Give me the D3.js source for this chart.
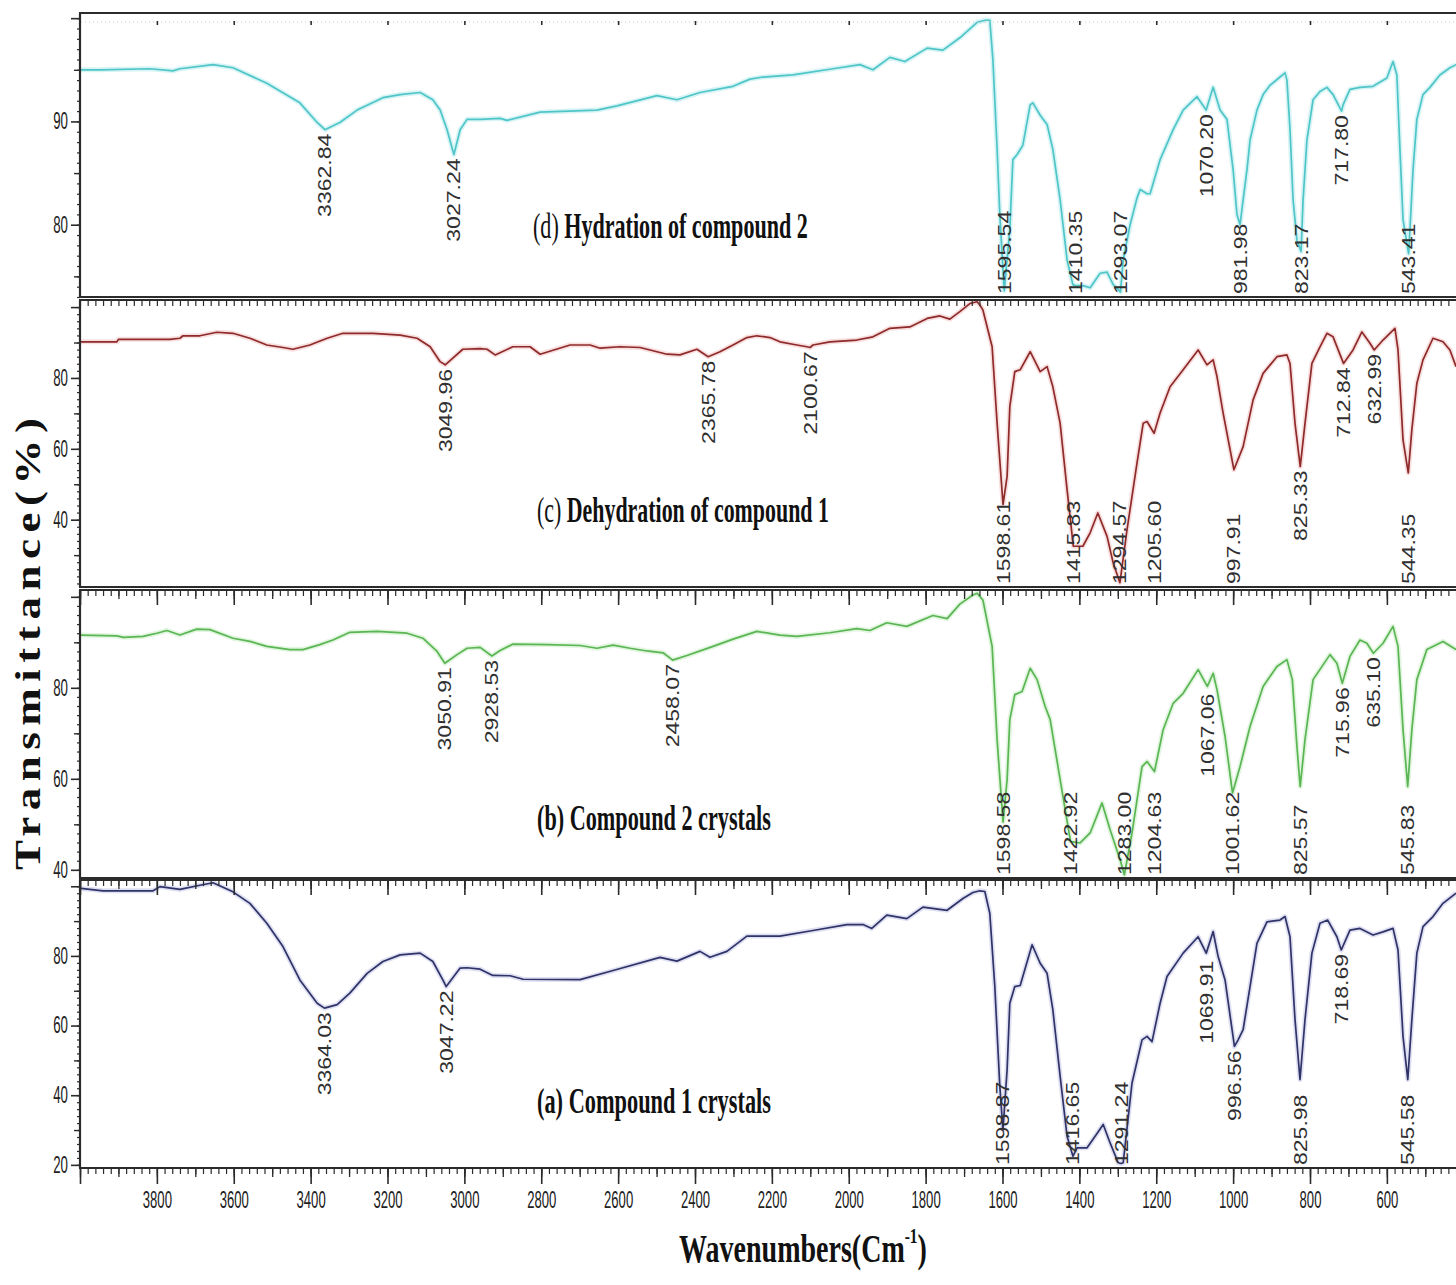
<!DOCTYPE html>
<html>
<head>
<meta charset="utf-8">
<script src="https://cdn.jsdelivr.net/npm/d3@7"></script>
<style>
  body { margin: 0; background: #fff; }
  svg { display: block; }
</style>
</head>
<body>
<svg id="chart" width="1456" height="1285"></svg>
<script>
// ---------------- data: FT-IR spectra, [wavenumber (cm-1), transmittance (%)] ----------------
const hydration2 = [
  [4000,95.0],[3948,95.0],[3818,95.1],[3758,94.9],[3740,95.1],[3654,95.5],[3602,95.2],[3514,93.7],
  [3428,91.8],[3383,89.9],[3362.84,89.2],[3324,89.9],[3279,91.1],[3212,92.3],[3167,92.6],[3115,92.8],
  [3082,92.1],[3063,91.1],[3045,89.2],[3027.24,86.8],[3011,89.2],[2993,90.2],[2959,90.2],[2907,90.3],
  [2889,90.1],[2803,90.9],[2655,91.1],[2603,91.5],[2499,92.5],[2447,92.1],[2387,92.8],[2301,93.4],
  [2257,94.1],[2223,94.3],[2145,94.5],[2041,95.1],[1971,95.5],[1937,95.0],[1893,96.2],[1854,95.8],
  [1796,97.1],[1755,96.9],[1711,98.1],[1666,99.6],[1645,99.8],[1633,99.8],[1625,96.0],[1614,87.3],
  [1607,81.0],[1595.54,73.6],[1581,79.5],[1573,86.3],[1562,86.8],[1547,87.7],[1528,91.6],[1521,91.8],
  [1502,90.6],[1484,89.7],[1469,87.3],[1450,82.4],[1432,76.6],[1417,74.2],[1410.35,74.1],[1391,74.1],
  [1372,73.9],[1346,75.3],[1328,75.4],[1312,74.2],[1293.07,73.5],[1286,76.6],[1268,80.0],[1250,82.6],
  [1242,83.4],[1224,83.0],[1216,83.0],[1190,86.3],[1156,89.2],[1130,91.1],[1094,92.4],[1070.20,91.1],
  [1052,93.3],[1034,91.1],[1016,90.2],[1000,85.3],[990,81.0],[981.98,80.0],[974,82.4],[964,85.3],
  [956,88.2],[938,91.1],[922,92.6],[904,93.5],[878,94.3],[865,94.7],[860,94.0],[852,89.2],[844,82.4],
  [834,78.5],[823.17,77.4],[818,82.4],[808,88.2],[792,92.1],[774,92.9],[756,93.3],[740,92.6],
  [717.80,91.0],[714,91.6],[696,93.1],[670,93.3],[636,93.4],[600,94.2],[584,95.8],[574,94.5],
  [566,87.3],[558,80.5],[543.41,77.2],[540,79.5],[532,85.3],[522,90.2],[506,92.6],[488,93.3],
  [462,94.5],[436,95.2],[420,95.5]
];

const dehydration1 = [
  [4000,90.2],[3904,90.2],[3900,90.9],[3836,90.9],[3766,90.9],[3740,91.2],[3732,91.9],[3688,91.9],
  [3644,92.9],[3602,92.6],[3558,91.2],[3514,89.3],[3472,88.6],[3446,88.1],[3402,89.3],[3357,91.2],
  [3316,92.6],[3238,92.6],[3167,92.1],[3123,91.2],[3089,88.8],[3063,84.6],[3049.96,83.7],[3030,85.6],
  [3004,88.1],[2959,88.3],[2941,88.1],[2920,86.5],[2874,88.8],[2829,88.8],[2803,86.7],[2725,89.3],
  [2673,89.3],[2647,88.4],[2595,88.8],[2543,88.6],[2473,86.7],[2439,86.5],[2395,88.1],[2365.78,86.0],
  [2335,87.4],[2301,89.3],[2265,91.4],[2239,91.9],[2205,91.4],[2179,90.2],[2135,89.3],[2109,88.8],
  [2100.67,88.6],[2093,89.3],[2049,90.2],[1979,90.7],[1937,91.6],[1893,94.0],[1841,94.4],[1796,96.8],
  [1763,97.5],[1737,96.6],[1711,98.7],[1685,101.0],[1666,101.5],[1659,100.6],[1651,99.2],[1627,88.8],
  [1614,67.2],[1598.61,44.3],[1588,52.2],[1581,71.9],[1568,81.8],[1554,82.3],[1528,87.4],[1502,81.8],
  [1484,83.2],[1469,77.5],[1450,67.2],[1432,48.5],[1415.83,32.5],[1391,32.5],[1372,36.3],[1352,41.9],
  [1328,35.3],[1312,27.8],[1294.57,22.2],[1276,37.2],[1250,56.0],[1234,67.2],[1224,67.7],[1205.60,64.4],
  [1190,70.1],[1164,77.5],[1130,82.3],[1091,87.9],[1068,83.7],[1052,85.1],[1042,80.4],[1026,70.1],
  [997.91,54.1],[974,60.6],[948,73.8],[922,81.3],[886,86.0],[860,86.5],[852,84.1],[839,67.2],
  [825.33,55.0],[813,67.2],[795,84.1],[774,88.8],[756,92.6],[740,91.6],[712.84,84.1],[688,87.9],
  [665,93.0],[644,89.8],[632.99,87.9],[610,90.7],[579,94.0],[571,87.9],[558,62.5],[544.35,53.2],
  [535,65.4],[522,78.5],[506,85.1],[480,91.2],[454,90.2],[436,87.9],[420,83.2]
];

const crystals2 = [
  [4000,91.6],[3904,91.4],[3887,91.1],[3836,91.3],[3800,92.0],[3774,92.6],[3740,91.6],[3696,92.9],
  [3662,92.8],[3602,90.9],[3558,90.2],[3514,89.1],[3454,88.4],[3420,88.4],[3376,89.5],[3342,90.5],
  [3298,92.2],[3227,92.4],[3149,92.0],[3108,90.9],[3071,88.0],[3050.91,85.4],[3019,87.3],[2993,88.7],
  [2959,88.9],[2928.53,87.0],[2907,88.2],[2874,89.6],[2785,89.5],[2699,89.3],[2655,88.7],[2613,89.4],
  [2569,88.7],[2525,88.1],[2483,87.7],[2458.07,86.1],[2421,87.1],[2353,89.1],[2301,90.7],[2239,92.4],
  [2179,91.6],[2135,91.3],[2049,92.1],[1979,93.0],[1945,92.6],[1901,94.3],[1849,93.5],[1781,95.9],
  [1744,95.2],[1711,98.4],[1677,100.4],[1666,100.8],[1659,100.1],[1651,99.3],[1627,89.1],[1614,68.6],
  [1598.58,50.5],[1588,59.8],[1581,73.0],[1568,78.5],[1549,79.2],[1528,84.3],[1510,81.8],[1489,75.9],
  [1476,73.0],[1450,59.8],[1422.92,46.2],[1398,45.9],[1372,48.1],[1341,54.7],[1320,48.8],[1294,42.2],
  [1283.00,38.9],[1263,48.1],[1237,62.7],[1224,63.8],[1204.63,61.6],[1182,70.8],[1156,76.6],[1130,78.8],
  [1091,84.0],[1067.06,80.3],[1052,83.2],[1042,79.6],[1021,69.3],[1001.62,56.9],[982,62.7],[956,71.5],
  [922,80.3],[886,84.7],[860,86.2],[846,81.8],[834,67.1],[825.57,58.3],[813,68.6],[792,81.8],
  [748,87.3],[730,85.4],[715.96,81.0],[696,86.9],[670,90.5],[652,89.8],[635.10,87.6],[610,89.8],
  [584,93.5],[571,89.1],[558,70.8],[545.83,58.3],[535,70.8],[522,81.8],[496,88.4],[454,90.2],[420,88.4]
];

const crystals1 = [
  [4000,99.4],[3940,98.7],[3810,98.7],[3792,99.9],[3740,99.1],[3688,100.3],[3654,101.0],[3602,98.4],
  [3558,95.1],[3514,89.4],[3472,82.7],[3428,73.1],[3383,66.4],[3364.03,65.0],[3331,66.0],[3298,69.3],
  [3253,75.0],[3212,78.4],[3167,80.3],[3115,80.8],[3082,78.4],[3056,73.1],[3047.22,71.2],[3011,76.5],
  [2993,76.6],[2959,76.2],[2926,74.4],[2881,74.3],[2847,73.3],[2699,73.2],[2613,75.8],[2491,79.6],
  [2447,78.5],[2387,81.3],[2361,79.6],[2317,81.3],[2265,85.7],[2179,85.7],[2093,87.3],[2005,89.0],
  [1963,89.0],[1940,87.9],[1901,91.7],[1849,90.7],[1807,94.0],[1744,93.1],[1703,96.5],[1677,98.2],
  [1659,98.7],[1646,98.5],[1633,92.2],[1620,71.2],[1607,42.6],[1598.87,30.0],[1588,47.3],[1581,66.4],
  [1568,71.2],[1554,71.5],[1523,83.2],[1502,77.9],[1484,75.0],[1469,64.5],[1450,45.4],[1432,28.2],
  [1416.65,22.5],[1406,24.9],[1380,24.9],[1359,28.2],[1338,31.6],[1320,26.3],[1299,20.6],[1291.24,20.4],
  [1286,20.6],[1263,43.5],[1237,55.9],[1224,56.9],[1211,55.4],[1190,66.4],[1172,74.1],[1130,80.8],
  [1091,85.5],[1069.91,80.8],[1052,87.0],[1039,79.8],[1021,73.1],[996.56,54.0],[987,55.9],[974,58.8],
  [956,71.2],[938,83.6],[912,89.8],[878,90.3],[865,91.3],[852,85.5],[839,61.7],[825.98,44.5],
  [813,61.7],[795,80.8],[774,89.4],[754,90.3],[730,85.5],[718.69,81.7],[696,87.4],[670,87.9],
  [636,86.0],[610,86.9],[584,87.9],[571,81.7],[558,56.9],[545.58,44.5],[535,61.7],[522,80.8],
  [506,88.4],[480,91.3],[454,95.1],[420,98.0]
];

// peak positions printed under each spectrum (cm-1)
const peaksHydration2 = ["3362.84","3027.24","1595.54","1410.35","1293.07","1070.20","981.98","823.17","717.80","543.41"];
const peaksDehydration1 = ["3049.96","2365.78","2100.67","1598.61","1415.83","1294.57","1205.60","997.91","825.33","712.84","632.99","544.35"];
const peaksCrystals2 = ["3050.91","2928.53","2458.07","1598.58","1422.92","1283.00","1204.63","1067.06","1001.62","825.57","715.96","635.10","545.83"];
const peaksCrystals1 = ["3364.03","3047.22","1598.87","1416.65","1291.24","1069.91","996.56","825.98","718.69","545.58"];

const titleHydration2 = ["(d)", "Hydration of compound 2"];
const titleDehydration1 = ["(c)", "Dehydration of compound 1"];
const titleCrystals2 = ["(b)", "Compound 2 crystals"];
const titleCrystals1 = ["(a)", "Compound 1 crystals"];

const wavenumberTickLabels = [3800,3600,3400,3200,3000,2800,2600,2400,2200,2000,1800,1600,1400,1200,1000,800,600];
const xAxisTitle = "Wavenumbers(Cm";
const xAxisTitleSup = "-1";
const yAxisTitle = "Transmittance(%)";

// ---------------- layout ----------------
const svg = d3.select("#chart");
const x = d3.scaleLinear().domain([4000, 400]).range([80, 1463.75]);
const AXIS = "#2b2b2b";

const panels = [
  { series: hydration2, peaks: peaksHydration2, title: titleHydration2, titleBold: false,
    top: 13, bottom: 297, domain: [73, 100.5], major: [80, 90, 100], labeled: [80, 90],
    medium: [75, 85, 95], minorStep: 1, color: "#4fc5c8", halo: "#a6e6e8",
    titleX: 533, titleY: 238, titleW: 275, topStyle: "sparse" },
  { series: dehydration1, peaks: peaksDehydration1, title: titleDehydration1, titleBold: false,
    top: 300, bottom: 587, domain: [21, 102], major: [40, 60, 80, 100], labeled: [40, 60, 80],
    medium: [30, 50, 70, 90], minorStep: 2, color: "#8e2a2a", halo: "#efb9b9",
    titleX: 537, titleY: 522, titleW: 292, topStyle: "minor" },
  { series: crystals2, peaks: peaksCrystals2, title: titleCrystals2, titleBold: true,
    top: 590, bottom: 878, domain: [38.2, 101.5], major: [40, 60, 80, 100], labeled: [40, 60, 80],
    medium: [50, 70, 90], minorStep: 2, color: "#5ab553", halo: "#bde8b8",
    titleX: 537, titleY: 830, titleW: 234, topStyle: "full" },
  { series: crystals1, peaks: peaksCrystals1, title: titleCrystals1, titleBold: true,
    top: 880, bottom: 1168, domain: [19.1, 101.8], major: [20, 40, 60, 80, 100], labeled: [20, 40, 60, 80],
    medium: [30, 50, 70, 90], minorStep: 2, color: "#2f3368", halo: "#b9bbe0",
    titleX: 537, titleY: 1113, titleW: 234, topStyle: "full" }
];

// squeeze a text element horizontally to a given width while keeping its anchor in place
function fitX(sel, width) {
  sel.each(function () {
    const w = this.getComputedTextLength();
    if (!w) return;
    const target = typeof width === "function" ? width(this) : width;
    const sx = target / w;
    const x0 = +this.getAttribute("x") || 0;
    this.setAttribute("transform", `translate(${x0 * (1 - sx)},0) scale(${sx},1)`);
  });
}

const defs = svg.append("defs");
const everyTwenty = d3.range(4000, 399, -20);
const everyHundred = d3.range(4000, 399, -100);
const everyTwoHundred = d3.range(4000, 399, -200);

panels.forEach((p, i) => {
  const y = d3.scaleLinear().domain(p.domain).range([p.bottom, p.top]);
  const clipId = "clip" + i;
  defs.append("clipPath").attr("id", clipId)
    .append("rect").attr("x", 81).attr("y", p.top + 1)
    .attr("width", 1456 - 81).attr("height", p.bottom - p.top - 2);

  const g = svg.append("g");
  const plot = g.append("g").attr("clip-path", `url(#${clipId})`);

  const line = d3.line().x(d => x(d[0])).y(d => y(d[1]));

  // soft halo under the trace
  plot.append("path").datum(p.series)
    .attr("d", line).attr("fill", "none")
    .attr("stroke", p.halo).attr("stroke-width", 5).attr("stroke-opacity", 0.45)
    .attr("stroke-linejoin", "round");
  plot.append("path").datum(p.series)
    .attr("d", line).attr("fill", "none")
    .attr("stroke", p.color).attr("stroke-width", 1.7)
    .attr("stroke-linejoin", "round");

  // peak labels hang below the trace; deep bands are labelled along the panel floor
  const floorLimit = p.top + 0.85 * (p.bottom - p.top);
  p.peaks.forEach(label => {
    const wn = +label;
    const near = p.series.filter(d => Math.abs(d[0] - wn) <= 45);
    const minT = d3.min(near, d => d[1]);
    const lg = plot.append("g");
    const t = lg.append("text")
      .attr("text-anchor", "end")
      .attr("dy", "0.36em")
      .attr("font-family", "'Liberation Sans', Arial, sans-serif")
      .attr("font-size", 18)
      .attr("fill", "#303030")
      .attr("transform", "scale(1.28,1)")
      .text(label);
    const len = t.node().getComputedTextLength() * 1.28;
    let top = y(minT) + 4;
    if (top + len > floorLimit) top = p.bottom - 3 - len;
    lg.attr("transform", `translate(${x(wn)},${top}) rotate(-90)`);
  });

  // left axis: labelled ticks, mid ticks, fine ticks
  const yMinor = d3.range(Math.ceil(p.domain[0] / p.minorStep) * p.minorStep, p.domain[1], p.minorStep);
  g.append("g").attr("transform", "translate(80,0)")
    .call(d3.axisLeft(y).tickValues(yMinor).tickSize(3).tickFormat(""))
    .call(a => a.select(".domain").remove())
    .call(a => a.selectAll("line").attr("stroke", AXIS).attr("stroke-width", 1.2));
  g.append("g").attr("transform", "translate(80,0)")
    .call(d3.axisLeft(y).tickValues(p.medium).tickSize(6).tickFormat(""))
    .call(a => a.select(".domain").remove())
    .call(a => a.selectAll("line").attr("stroke", AXIS).attr("stroke-width", 1.4));
  const yAxis = g.append("g").attr("transform", "translate(80,0)")
    .call(d3.axisLeft(y).tickValues(p.major).tickSize(9).tickPadding(3)
      .tickFormat(d => p.labeled.includes(d) ? d : ""))
    .call(a => a.select(".domain").remove());
  yAxis.selectAll("line").attr("stroke", AXIS).attr("stroke-width", 1.6);
  yAxis.selectAll("text")
    .attr("font-family", "'Liberation Sans', Arial, sans-serif")
    .attr("font-size", 23).attr("fill", "#222")
    .call(fitX, n => n.textContent.length * 7.4);

  // frame: left spine, top and bottom rules
  g.append("line").attr("x1", 80).attr("x2", 80).attr("y1", p.top).attr("y2", p.bottom)
    .attr("stroke", AXIS).attr("stroke-width", 2.2);
  g.append("line").attr("x1", 79).attr("x2", 1456).attr("y1", p.top).attr("y2", p.top)
    .attr("stroke", AXIS).attr("stroke-width", 2.2);
  g.append("line").attr("x1", 79).attr("x2", 1456).attr("y1", p.bottom).attr("y2", p.bottom)
    .attr("stroke", AXIS).attr("stroke-width", 2.2);

  // tick rows along the upper rule of each panel
  const topTicks = (values, size, width) => g.append("g")
    .attr("transform", `translate(0,${p.top + 1})`)
    .call(d3.axisBottom(x).tickValues(values).tickSize(size).tickFormat(""))
    .call(a => a.select(".domain").remove())
    .call(a => a.selectAll("line").attr("stroke", AXIS).attr("stroke-width", width));
  if (p.topStyle === "sparse") {
    g.append("line").attr("x1", 81).attr("x2", 1456).attr("y1", p.top + 9).attr("y2", p.top + 9)
      .attr("stroke", "#c9c9c9").attr("stroke-width", 1).attr("stroke-dasharray", "1,3");
    g.append("g").attr("transform", `translate(0,${p.top + 8})`)
      .call(d3.axisBottom(x).tickValues(everyTwoHundred.slice(1)).tickSize(4).tickFormat(""))
      .call(a => a.select(".domain").remove())
      .call(a => a.selectAll("line").attr("stroke", AXIS).attr("stroke-width", 1.6));
  } else if (p.topStyle === "minor") {
    topTicks(everyTwenty, 5, 1.2);
  } else {
    topTicks(everyTwenty, 5, 1.2);
    topTicks(everyHundred, 8, 1.3);
    topTicks(everyTwoHundred, 14, 1.6);
  }

  // panel caption
  const cap = g.append("g").attr("transform", `translate(${p.titleX},${p.titleY})`);
  const ct = cap.append("text")
    .attr("x", 0)
    .attr("font-family", "'Liberation Serif', 'Times New Roman', serif")
    .attr("font-size", 35).attr("fill", "#111");
  ct.append("tspan").attr("font-weight", p.titleBold ? "bold" : "normal").text(p.title[0]);
  ct.append("tspan").attr("font-weight", "bold").text(" " + p.title[1]);
  fitX(ct, p.titleW);
});

// shared wavenumber axis
const xBase = 1168;
const bottomTicks = (values, size, width) => svg.append("g")
  .attr("transform", `translate(0,${xBase})`)
  .call(d3.axisBottom(x).tickValues(values).tickSize(size).tickFormat(""))
  .call(a => a.select(".domain").remove())
  .call(a => a.selectAll("line").attr("stroke", AXIS).attr("stroke-width", width));
bottomTicks(everyTwenty, 6, 1.2);
bottomTicks(everyHundred, 9, 1.3);
const xAxis = svg.append("g").attr("transform", `translate(0,${xBase})`)
  .call(d3.axisBottom(x).tickValues(everyTwoHundred).tickSize(16).tickPadding(8)
    .tickFormat(d => wavenumberTickLabels.includes(d) ? d : ""))
  .call(a => a.select(".domain").remove());
xAxis.selectAll("line").attr("stroke", AXIS).attr("stroke-width", 1.6);
xAxis.selectAll("text")
  .attr("font-family", "'Liberation Sans', Arial, sans-serif")
  .attr("font-size", 23).attr("fill", "#222")
  .call(fitX, n => n.textContent.length * 7.3);

// axis titles
const xt = svg.append("g").attr("transform", "translate(803,1262)")
  .append("text").attr("x", 0).attr("text-anchor", "middle")
  .attr("font-family", "'Liberation Serif', 'Times New Roman', serif")
  .attr("font-weight", "bold").attr("font-size", 40).attr("fill", "#111");
xt.append("tspan").text(xAxisTitle);
xt.append("tspan").attr("font-size", 22).attr("dy", "-0.85em").text(xAxisTitleSup);
xt.append("tspan").attr("dy", "0.47em").text(")");
fitX(xt, 248);

// vertical title: glyphs widened a little along the reading direction, rest made up by spacing
svg.append("g").attr("transform", "translate(40,644) rotate(-90) scale(1.25,1)")
  .append("text").attr("x", 0).attr("text-anchor", "middle")
  .attr("font-family", "'Liberation Serif', 'Times New Roman', serif")
  .attr("font-weight", "bold").attr("font-size", 36).attr("fill", "#111")
  .attr("textLength", 452 / 1.25).attr("lengthAdjust", "spacing")
  .text(yAxisTitle);
</script>
</body>
</html>
